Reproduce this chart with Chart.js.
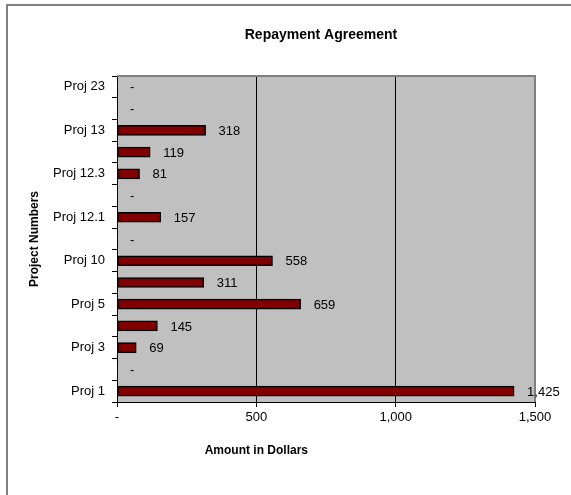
<!DOCTYPE html>
<html>
<head>
<meta charset="utf-8">
<script src="https://cdn.jsdelivr.net/npm/chart.js@4/dist/chart.umd.min.js"></script>
<style>
html,body{margin:0;padding:0;background:#fff;}
#wrap{position:relative;width:571px;height:495px;}
</style>
</head>
<body>
<div id="wrap"><canvas id="c" width="571" height="495"></canvas></div>
<script>
// Categories listed bottom-to-top (Proj 1 at bottom)
const categories = ["Proj 1", "", "Proj 3", "", "Proj 5", "", "Proj 10", "", "Proj 12.1", "", "Proj 12.3", "", "Proj 13", "", "Proj 23"];
const amounts = [1425, 0, 69, 145, 659, 311, 558, 0, 157, 0, 81, 119, 318, 0, 0];
const xTicks = [0, 500, 1000, 1500];
const chartTitle = "Repayment Agreement";
const xTitle = "Amount in Dollars";
const yTitle = "Project Numbers";

const FONT = "'Liberation Sans', Arial, sans-serif";

const decor = {
  id: 'decor',
  beforeDraw(chart) {
    const {ctx, chartArea: a} = chart;
    ctx.save();
    ctx.fillStyle = '#fff';
    ctx.fillRect(0, 0, chart.width, chart.height);
    ctx.fillStyle = '#808080';
    ctx.fillRect(6, 4, chart.width - 6, 2);
    ctx.fillRect(6, 4, 2, chart.height - 4);
    ctx.fillStyle = '#C0C0C0';
    ctx.fillRect(a.left, a.top, a.right - a.left, a.bottom - a.top);
    ctx.restore();
  },
  afterDatasetsDraw(chart) {
    const {ctx, chartArea: a} = chart;
    const xs = chart.scales.x;
    ctx.save();
    // top and right plot border (grey)
    ctx.fillStyle = '#808080';
    ctx.fillRect(a.left, a.top - 1, a.right - a.left + 1, 2);
    ctx.fillRect(a.right - 1, a.top - 1, 2, a.bottom - a.top + 1);
    // data labels
    ctx.fillStyle = '#000';
    ctx.font = '13px ' + FONT;
    ctx.textBaseline = 'middle';
    ctx.textAlign = 'left';
    const meta = chart.getDatasetMeta(0);
    meta.data.forEach((bar, i) => {
      const v = amounts[i];
      const txt = v ? v.toLocaleString('en-US') : '-';
      ctx.fillText(txt, bar.x + 13, bar.y + 1);
    });
    // titles
    ctx.textAlign = 'center';
    ctx.font = 'bold 14px ' + FONT;
    ctx.fillText(chartTitle, a.left + 0.488 * (a.right - a.left), 35);
    ctx.font = 'bold 12px ' + FONT;
    ctx.fillText(xTitle, xs.getPixelForValue(500), 451);
    ctx.restore();
  }
};

new Chart(document.getElementById('c'), {
  type: 'bar',
  data: {
    labels: categories,
    datasets: [{
      data: amounts,
      backgroundColor: '#800000',
      borderColor: '#000',
      borderWidth: ctx => (amounts[ctx.dataIndex] ? 1.5 : 0),
      borderSkipped: false,
      barThickness: 10
    }]
  },
  plugins: [decor],
  options: {
    indexAxis: 'y',
    responsive: false,
    animation: false,
    devicePixelRatio: 1,
    layout: {padding: {left: 0, right: 36, top: 76, bottom: 0}},
    plugins: {legend: {display: false}, tooltip: {enabled: false}, title: {display: false}},
    scales: {
      x: {
        type: 'linear',
        min: 0, max: 1500,
        afterBuildTicks: s => { s.ticks = xTicks.map(v => ({value: v})); },
        ticks: {
          color: '#000',
          font: {size: 13, family: FONT},
          padding: 3,
          callback: v => (v === 0 ? '-' : Number(v).toLocaleString('en-US'))
        },
        grid: {
          color: c => (c.tick && c.tick.value === 1500 ? 'rgba(0,0,0,0)' : '#000'),
          lineWidth: 1,
          tickColor: '#000',
          tickLength: 5
        },
        border: {display: true, color: '#000', width: 1},
        afterFit: s => { s.height = 93; }
      },
      y: {
        reverse: true,
        offset: true,
        ticks: {
          color: '#000',
          font: {size: 13, family: FONT},
          padding: 7,
          autoSkip: false
        },
        grid: {
          offset: true,
          drawOnChartArea: false,
          color: '#000',
          tickColor: '#000',
          tickLength: 5
        },
        border: {display: true, color: '#000', width: 1},
        title: {
          display: true,
          text: yTitle,
          color: '#000',
          font: {size: 12, weight: 'bold', family: FONT},
          padding: {top: 27, bottom: 0}
        },
        afterFit: s => { s.width = 117; }
      }
    }
  }
});
</script>
</body>
</html>
